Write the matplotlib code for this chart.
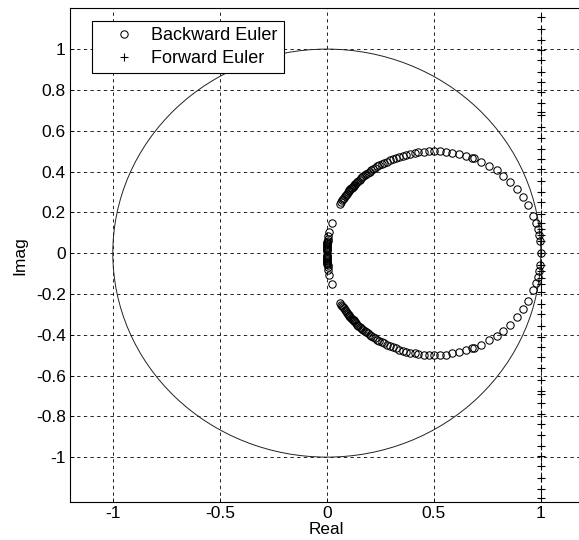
import numpy as np
import matplotlib
matplotlib.use('Agg')
import matplotlib.pyplot as plt
from matplotlib.patches import Circle

plt.rcParams['font.family'] = ['Liberation Sans', 'DejaVu Sans']
plt.rcParams['axes.unicode_minus'] = False

# Forward Euler: Pole auf der Geraden Re = 1
fe_imag_upper = [0.0, 0.06, 0.09, 0.12, 0.15, 0.19, 0.25, 0.30, 0.355, 0.41,
                 0.46, 0.51, 0.565, 0.62, 0.675, 0.69, 0.735, 0.79, 0.84, 0.89,
                 0.945, 0.995, 1.045, 1.10, 1.155]
fe_imag_lower = [-0.06, -0.09, -0.12, -0.15, -0.19, -0.25, -0.30, -0.355, -0.41,
                 -0.46, -0.51, -0.565, -0.62, -0.675, -0.69, -0.735, -0.79, -0.84, -0.89,
                 -0.945, -0.995, -1.045, -1.10, -1.155, -1.20]

# Backward Euler: Pole auf dem Kreis um 0.5 mit Radius 0.5
be_real_upper = [1.0, 0.996, 0.992, 0.986, 0.978, 0.965, 0.941, 0.917, 0.888, 0.856,
                 0.825, 0.794, 0.758, 0.722, 0.687, 0.677, 0.649, 0.616, 0.586, 0.558,
                 0.528, 0.502, 0.478, 0.452, 0.428, 0.410, 0.390, 0.372, 0.354, 0.338,
                 0.322, 0.308, 0.294, 0.281, 0.269, 0.257, 0.246, 0.236, 0.226, 0.217,
                 0.208, 0.200, 0.192, 0.185, 0.178, 0.171, 0.165, 0.159, 0.153, 0.148,
                 0.143, 0.138, 0.133, 0.129, 0.125, 0.121, 0.117, 0.113, 0.110, 0.106,
                 0.103, 0.100, 0.094, 0.089, 0.084, 0.080, 0.075, 0.072, 0.068, 0.063,
                 0.023, 0.011, 0.007, 0.005, 0.0036, 0.003, 0.0025, 0.002, 0.0016, 0.0012,
                 0.0009, 0.0006, 0.0004, 0.0002, 0.0001]
be_imag_upper = [0.0, 0.060, 0.089, 0.118, 0.147, 0.183, 0.235, 0.275, 0.315, 0.351,
                 0.380, 0.405, 0.428, 0.448, 0.464, 0.467, 0.477, 0.486, 0.492, 0.497,
                 0.499, 0.500, 0.500, 0.498, 0.494, 0.492, 0.488, 0.483, 0.478, 0.473,
                 0.467, 0.462, 0.456, 0.449, 0.443, 0.437, 0.431, 0.425, 0.418, 0.412,
                 0.406, 0.400, 0.394, 0.388, 0.382, 0.377, 0.371, 0.366, 0.360, 0.355,
                 0.350, 0.345, 0.340, 0.335, 0.330, 0.326, 0.321, 0.317, 0.312, 0.308,
                 0.304, 0.300, 0.292, 0.285, 0.278, 0.271, 0.264, 0.258, 0.252, 0.243,
                 0.150, 0.105, 0.085, 0.070, 0.060, 0.055, 0.050, 0.045, 0.040, 0.035,
                 0.030, 0.025, 0.020, 0.015, 0.010]
be_real_lower = [0.996, 0.992, 0.986, 0.978, 0.965, 0.941, 0.917, 0.888, 0.856,
                 0.825, 0.794, 0.758, 0.722, 0.687, 0.677, 0.649, 0.616, 0.586, 0.558,
                 0.528, 0.502, 0.478, 0.452, 0.428, 0.410, 0.390, 0.372, 0.354, 0.338,
                 0.322, 0.308, 0.294, 0.281, 0.269, 0.257, 0.246, 0.236, 0.226, 0.217,
                 0.208, 0.200, 0.192, 0.185, 0.178, 0.171, 0.165, 0.159, 0.153, 0.148,
                 0.143, 0.138, 0.133, 0.129, 0.125, 0.121, 0.117, 0.113, 0.110, 0.106,
                 0.103, 0.100, 0.094, 0.089, 0.084, 0.080, 0.075, 0.072, 0.068, 0.063,
                 0.023, 0.011, 0.007, 0.005, 0.0036, 0.003, 0.0025, 0.002, 0.0016, 0.0012,
                 0.0009, 0.0006, 0.0004, 0.0002, 0.0001]
be_imag_lower = [-0.060, -0.089, -0.118, -0.147, -0.183, -0.235, -0.275, -0.315, -0.351,
                 -0.380, -0.405, -0.428, -0.448, -0.464, -0.467, -0.477, -0.486, -0.492, -0.497,
                 -0.499, -0.500, -0.500, -0.498, -0.494, -0.492, -0.488, -0.483, -0.478, -0.473,
                 -0.467, -0.462, -0.456, -0.449, -0.443, -0.437, -0.431, -0.425, -0.418, -0.412,
                 -0.406, -0.400, -0.394, -0.388, -0.382, -0.377, -0.371, -0.366, -0.360, -0.355,
                 -0.350, -0.345, -0.340, -0.335, -0.330, -0.326, -0.321, -0.317, -0.312, -0.308,
                 -0.304, -0.300, -0.292, -0.285, -0.278, -0.271, -0.264, -0.258, -0.252, -0.243,
                 -0.150, -0.105, -0.085, -0.070, -0.060, -0.055, -0.050, -0.045, -0.040, -0.035,
                 -0.030, -0.025, -0.020, -0.015, -0.010]

x_ticks = [-1, -0.5, 0, 0.5, 1]
x_ticklabels = ['-1', '-0.5', '0', '0.5', '1']
y_ticks = [-1, -0.8, -0.6, -0.4, -0.2, 0, 0.2, 0.4, 0.6, 0.8, 1]
y_ticklabels = ['-1', '-0.8', '-0.6', '-0.4', '-0.2', '0', '0.2', '0.4', '0.6', '0.8', '1']

be_real = np.array(be_real_upper + be_real_lower)
be_imag = np.array(be_imag_upper + be_imag_lower)
fe_imag = np.array(fe_imag_upper + fe_imag_lower)
fe_real = np.ones_like(fe_imag)

fig = plt.figure(figsize=(5.79, 5.4), dpi=100)
ax = fig.add_axes([70 / 579, 38 / 540, 513.6 / 579, 493.7 / 540])

# Einheitskreis
ax.add_patch(Circle((0, 0), 1.0, fill=False, ec='#222222', lw=0.7, zorder=2))

ax.plot(be_real, be_imag, 'o', ms=5.3, mfc='none', mec='k', mew=0.75,
        label='Backward Euler', zorder=3)
ax.plot(fe_real, fe_imag, '+', ms=5.3, mec='k', mew=0.8,
        label='Forward Euler', zorder=3)

ax.set_xlim(-1.2, 1.2)
ax.set_ylim(-1.22, 1.2)
ax.set_xticks(x_ticks)
ax.set_xticklabels(x_ticklabels)
ax.set_yticks(y_ticks)
ax.set_yticklabels(y_ticklabels)
ax.tick_params(direction='in', length=3, width=0.6, labelsize=12.5)
ax.tick_params(axis='x', pad=3)
ax.tick_params(axis='y', pad=3)

ax.grid(True, color='k', linestyle=(0, (4, 4)), linewidth=0.6)
ax.set_axisbelow(True)
for side in ['left', 'bottom', 'top']:
    ax.spines[side].set_linewidth(0.8)
ax.spines['right'].set_visible(False)

ax.set_xlabel('Real', fontsize=12.3, labelpad=0.5)
ax.set_ylabel('Imag', fontsize=12.5, labelpad=6)

leg = ax.legend(loc='upper left', bbox_to_anchor=(0.0434, 0.974), borderaxespad=0,
                fontsize=13, handlelength=2.8, handletextpad=0.1, borderpad=0.35,
                labelspacing=0.3, fancybox=False, framealpha=1)
leg.get_frame().set_edgecolor('k')
leg.get_frame().set_linewidth(0.8)

plt.savefig('out.png', dpi=100)
